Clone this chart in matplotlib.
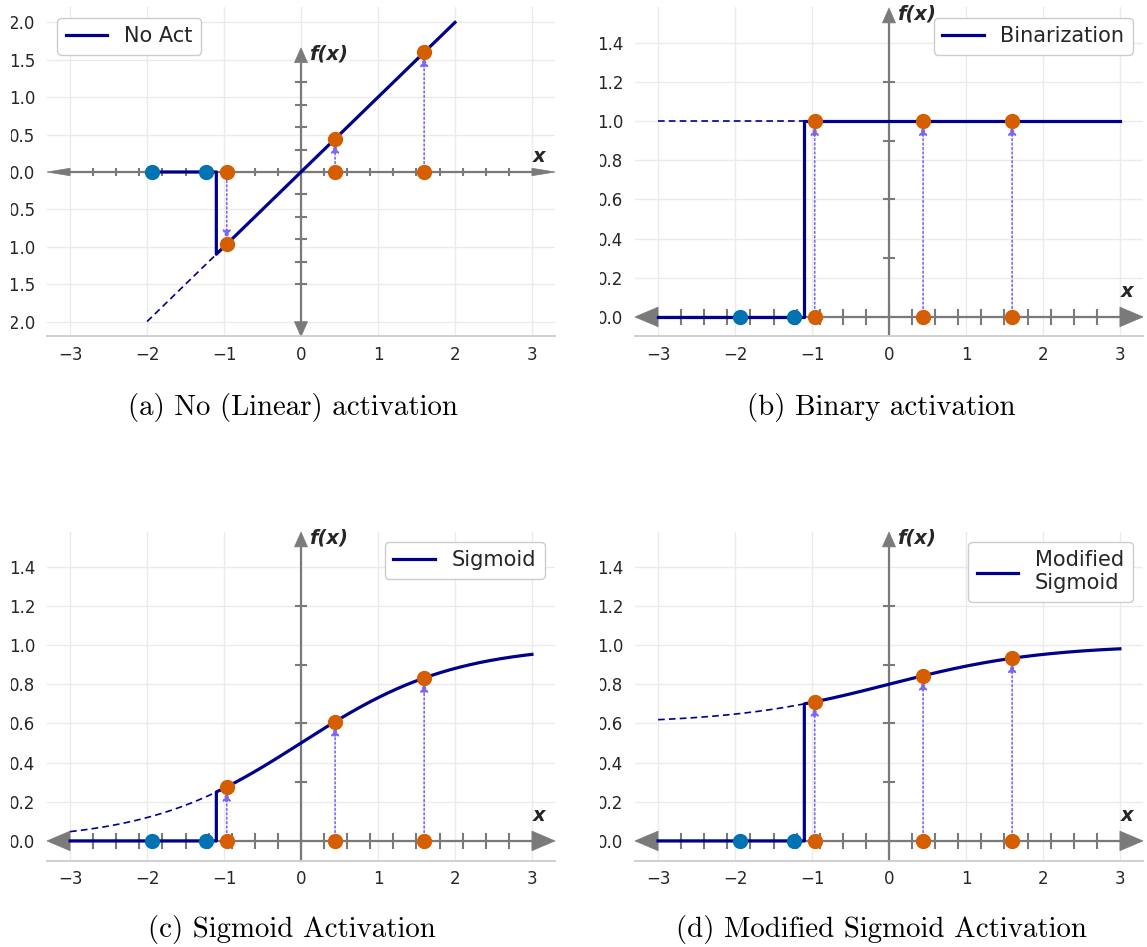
import numpy as np
import matplotlib
matplotlib.use("Agg")
import matplotlib.pyplot as plt
from matplotlib.patches import Polygon, Rectangle

W, H, DPI = 1147, 947, 100

# ---- data -----------------------------------------------------------------
threshold = -1.1                      # inputs below this are switched off
below_inputs = [-1.93, -1.23]         # inputs that stay at zero
above_inputs = [-0.965, 0.443, 1.6]   # inputs that pass through the activation

legend_labels = ["No Act", "Binarization", "Sigmoid", "Modified\nSigmoid"]
captions = ["(a) No (Linear) activation", "(b) Binary activation",
            "(c) Sigmoid Activation", "(d) Modified Sigmoid Activation"]
x_ranges = [(-2.0, 2.0), (-3.0, 3.0), (-3.0, 3.0), (-3.0, 3.0)]
y_limits = [(-2.2, 2.2), (-0.1, 1.58), (-0.1, 1.58), (-0.1, 1.58)]
y_tick_steps = [0.5, 0.2, 0.2, 0.2]
x_tick_labels = [-3, -2, -1, 0, 1, 2, 3]
legend_locs = ["upper left", "upper right", "upper right", "upper right"]


def sigmoid(x):
    return 1.0 / (1.0 + np.exp(-x))


activations = [
    lambda x: np.asarray(x, dtype=float),
    lambda x: np.ones_like(np.asarray(x, dtype=float)),
    sigmoid,
    lambda x: 0.6 + 0.4 * sigmoid(x),
]

# ---- style ----------------------------------------------------------------
NAVY = "#00008B"
BLUE = "#0173B2"
ORANGE = "#D55E00"
GRAY = "#7a7a7a"
ARROW = "mediumslateblue"
TXT = "#262626"

plt.rcParams.update({
    "font.family": "DejaVu Sans",
    "axes.axisbelow": True,
})

fig = plt.figure(figsize=(W / DPI, H / DPI), dpi=DPI)
fig.patch.set_facecolor("white")

# axes boxes in pixels: left, top, right, bottom
boxes = [(47, 7.5, 555, 336.5), (635, 7.5, 1143, 336.5),
         (47, 531.5, 555, 860.5), (635, 531.5, 1143, 860.5)]
caption_pos = [(293, 408), (881, 408), (292, 929), (881, 929)]


def axis_line(ax, start, end, horizontal, head_w, head_l, heads):
    """Gray coordinate axis with triangular arrow heads."""
    a, b = start, end
    lo = a + (head_l if "lo" in heads else 0)
    hi = b - (head_l if "hi" in heads else 0)
    if horizontal:
        ax.plot([lo, hi], [0, 0], color=GRAY, lw=1.6, zorder=1.5,
                solid_capstyle="butt", clip_on=False)
    else:
        ax.plot([0, 0], [lo, hi], color=GRAY, lw=1.6, zorder=1.5,
                solid_capstyle="butt", clip_on=False)
    for side in heads:
        tip = b if side == "hi" else a
        base = hi if side == "hi" else lo
        if horizontal:
            pts = [[tip, 0], [base, head_w / 2], [base, -head_w / 2]]
        else:
            pts = [[0, tip], [head_w / 2, base], [-head_w / 2, base]]
        ax.add_patch(Polygon(pts, closed=True, facecolor=GRAY,
                             edgecolor=GRAY, lw=0.5, zorder=1.5,
                             clip_on=False))


for i in range(4):
    l, t, r, btm = boxes[i]
    ax = fig.add_axes([l / W, 1 - btm / H, (r - l) / W, (btm - t) / H])
    f = activations[i]
    x0, x1 = x_ranges[i]
    y0, y1 = y_limits[i]

    ax.set_xlim(-3.3, 3.3)
    ax.set_ylim(y0, y1)
    ax.set_xticks(x_tick_labels)
    step = y_tick_steps[i]
    ax.set_yticks(np.round(np.arange(np.ceil(y0 / step) * step, y1, step), 2))
    ax.grid(True, color="#ebebeb", lw=1.0)
    for s in ["top", "right", "left"]:
        ax.spines[s].set_visible(False)
    ax.spines["bottom"].set_color("#cccccc")
    ax.spines["bottom"].set_linewidth(1.3)
    ax.tick_params(axis="both", length=0, labelsize=12, colors=TXT)
    ax.tick_params(axis="y", pad=8.5)
    ax.tick_params(axis="x", pad=7)

    # coordinate axes with arrows and small tick marks
    yr = y1 - y0
    axis_line(ax, -3.3, 3.3, True, 0.1, 0.3, ("lo", "hi"))
    if i == 0:
        axis_line(ax, y0, 1.66, False, 0.17, 0.045 * yr, ("lo", "hi"))
        vt = np.arange(-1.5, 1.21, 0.3)
        v_tip = 1.66
    else:
        axis_line(ax, y0, 1.577, False, 0.17, 0.045 * yr, ("hi",))
        vt = np.arange(0.3, 1.21, 0.3)
        v_tip = 1.577
    for xt in np.arange(-2.7, 2.71, 0.3):
        ax.plot([xt, xt], [-0.035, 0.035], color=GRAY, lw=1.5, zorder=1.5)
    for ytk in vt:
        ax.plot([-0.07, 0.07], [ytk, ytk], color=GRAY, lw=1.5, zorder=1.5)

    # activation curve: off below the threshold, then f(x)
    x_off = np.linspace(x0, threshold, 200)
    x_on = np.linspace(threshold, x1, 400)
    ax.plot(x_off, f(x_off), color=NAVY, lw=1.2, ls=(0, (4, 2.5)), zorder=2)
    ax.plot(np.concatenate([x_off, x_on]),
            np.concatenate([np.zeros_like(x_off), f(x_on)]),
            color=NAVY, lw=2.3, zorder=2.2, label=legend_labels[i])

    # inputs and their outputs
    ax.plot(below_inputs, np.zeros(len(below_inputs)), "o", color=BLUE,
            ms=10, zorder=4)
    xa = np.array(above_inputs)
    ya = f(xa)
    for xv, yv in zip(xa, ya):
        ax.annotate("", xy=(xv, yv), xytext=(xv, 0),
                    arrowprops=dict(arrowstyle="-|>", color=ARROW, lw=1.2,
                                    ls=":", shrinkA=3, shrinkB=4,
                                    mutation_scale=12),
                    zorder=3)
    ax.plot(xa, np.zeros_like(xa), "o", color=ORANGE, ms=10, zorder=4)
    ax.plot(xa, ya, "o", color=ORANGE, ms=10, zorder=4)

    # axis names
    ax.annotate("f(x)", xy=(0.1, v_tip), xytext=(0, -4.5),
                textcoords="offset points", fontsize=14, fontweight="bold",
                fontstyle="italic", va="center", ha="left", color=TXT,
                zorder=5)
    ax.text(3.1, 0.08, "x", fontsize=14, fontweight="bold",
            fontstyle="italic", ha="center", va="bottom", color=TXT, zorder=5)

    leg = ax.legend(loc=legend_locs[i], fontsize=15, framealpha=1.0,
                    edgecolor="#cccccc", fancybox=True)
    leg.set_zorder(10)
    for txt in leg.get_texts():
        txt.set_color(TXT)

    cx, cy = caption_pos[i]
    fig.text(cx / W, 1 - cy / H, captions[i], family="cmr10", fontsize=20.8,
             ha="center", va="center", color="black")

# trim the label margin of each column
for x_from, x_to in [(0, 11), (560, 600)]:
    fig.patches.append(Rectangle((x_from / W, 0), (x_to - x_from) / W, 1,
                                 transform=fig.transFigure, facecolor="white",
                                 edgecolor="none", zorder=20))

fig.savefig("out.png", dpi=DPI, facecolor="white")
